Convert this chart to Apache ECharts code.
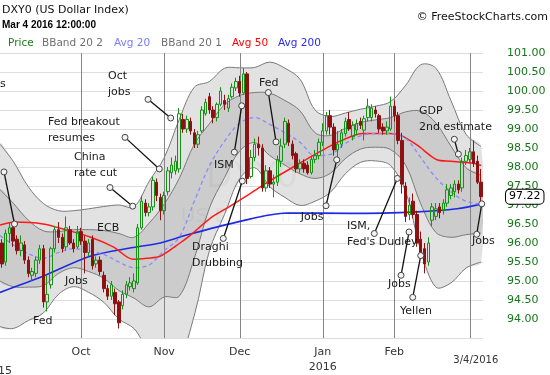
<!DOCTYPE html>
<html>
<head>
<meta charset="utf-8">
<script src="https://cdn.jsdelivr.net/npm/echarts@6/dist/echarts.min.js"></script>
<style>html,body{margin:0;padding:0;background:#fff}#c{width:550px;height:375px}</style>
</head>
<body>
<div id="c"></div>
<script>
const dates = ['9/1/2015','9/2/2015','9/3/2015','9/4/2015','9/8/2015','9/9/2015','9/10/2015','9/11/2015','9/14/2015','9/15/2015','9/16/2015','9/17/2015','9/18/2015','9/21/2015','9/22/2015','9/23/2015','9/24/2015','9/25/2015','9/28/2015','9/29/2015','9/30/2015',
'10/1/2015','10/2/2015','10/5/2015','10/6/2015','10/7/2015','10/8/2015','10/9/2015','10/12/2015','10/13/2015','10/14/2015','10/15/2015','10/16/2015','10/19/2015','10/20/2015','10/21/2015','10/22/2015','10/23/2015','10/26/2015','10/27/2015','10/28/2015','10/29/2015','10/30/2015',
'11/2/2015','11/3/2015','11/4/2015','11/5/2015','11/6/2015','11/9/2015','11/10/2015','11/11/2015','11/12/2015','11/13/2015','11/16/2015','11/17/2015','11/18/2015','11/19/2015','11/20/2015','11/23/2015','11/24/2015','11/25/2015','11/27/2015','11/30/2015',
'12/1/2015','12/2/2015','12/3/2015','12/4/2015','12/7/2015','12/8/2015','12/9/2015','12/10/2015','12/11/2015','12/14/2015','12/15/2015','12/16/2015','12/17/2015','12/18/2015','12/21/2015','12/22/2015','12/23/2015','12/24/2015','12/28/2015','12/29/2015','12/30/2015','12/31/2015',
'1/4/2016','1/5/2016','1/6/2016','1/7/2016','1/8/2016','1/11/2016','1/12/2016','1/13/2016','1/14/2016','1/15/2016','1/19/2016','1/20/2016','1/21/2016','1/22/2016','1/25/2016','1/26/2016','1/27/2016','1/28/2016','1/29/2016',
'2/1/2016','2/2/2016','2/3/2016','2/4/2016','2/5/2016','2/8/2016','2/9/2016','2/10/2016','2/11/2016','2/12/2016','2/16/2016','2/17/2016','2/18/2016','2/19/2016','2/22/2016','2/23/2016','2/24/2016','2/25/2016','2/26/2016','2/29/2016',
'3/1/2016','3/2/2016','3/3/2016','3/4/2016'];

const opens = [
96.00,95.50,96.25,96.40,96.10,95.80,95.95,95.55,95.15,95.20,
95.55,95.85,94.45,94.90,95.85,96.35,96.15,95.90,96.35,96.00,
95.90,96.30,96.05,95.75,96.10,95.45,95.55,95.15,94.80,94.60,
94.70,94.45,94.35,94.65,94.85,94.80,94.95,96.40,97.05,96.80,
96.95,97.60,97.20,96.85,97.35,97.85,97.90,97.95,99.25,99.00,
99.20,98.90,98.60,98.95,99.40,99.85,99.50,99.30,99.65,99.75,
99.55,99.85,100.08,100.25,99.95,100.45,97.75,98.25,98.60,98.50,
97.45,97.90,97.55,97.60,98.15,98.60,99.15,98.60,98.35,97.95,
98.10,98.05,97.85,98.20,98.30,98.65,98.95,99.35,99.05,98.45,
98.60,98.88,99.25,98.80,98.97,99.20,98.97,99.30,99.30,99.50,
99.35,99.05,98.95,99.00,99.60,99.35,98.70,97.50,96.75,97.10,
96.75,96.10,95.85,95.50,96.60,96.70,96.95,96.85,97.05,97.25,
97.35,97.55,97.45,98.15,98.20,98.40,98.15,97.60];
const closes = [
95.45,96.25,96.40,96.05,95.80,96.00,95.55,95.20,95.25,95.55,
95.85,94.45,94.65,95.85,96.35,96.15,95.85,96.40,96.00,95.85,
96.30,96.05,95.75,96.00,95.40,95.55,95.25,94.80,94.60,94.90,
94.40,93.90,94.65,94.90,94.95,95.00,96.40,97.10,96.80,96.95,
97.65,97.25,96.85,97.25,97.90,98.05,98.15,99.40,99.00,99.25,
98.95,98.60,98.85,99.50,99.70,99.50,99.30,99.65,100.00,99.65,
99.80,100.10,100.25,99.95,100.45,97.70,98.25,98.60,98.50,97.45,
97.90,97.55,97.60,98.20,98.55,99.20,98.65,98.30,97.95,98.10,
97.95,97.85,98.20,98.30,98.65,98.95,99.35,99.05,98.45,98.60,
98.90,99.20,99.00,99.10,99.14,99.10,99.27,99.60,99.55,99.40,
99.00,98.95,99.05,99.60,99.35,98.70,97.55,96.70,97.00,96.75,
96.00,95.75,95.45,96.00,96.95,96.90,96.80,97.05,97.40,97.45,
97.55,97.40,98.15,98.30,98.40,98.10,97.60,97.22];
const lows = [
95.35,95.40,96.00,95.90,95.70,95.65,95.45,95.10,95.00,95.10,
95.45,94.30,94.20,94.80,95.75,96.00,95.75,95.80,95.95,95.75,
95.85,95.95,95.20,95.65,95.30,95.35,95.15,94.70,94.50,94.50,
94.10,93.75,94.25,94.55,94.75,94.70,94.90,96.35,96.70,96.70,
96.85,97.10,96.60,96.75,97.25,97.70,97.80,97.85,98.90,98.90,
98.85,98.50,98.50,98.90,99.35,99.40,99.15,99.20,99.60,99.50,
99.45,99.80,100.00,99.85,99.90,97.55,97.70,98.15,98.30,97.35,
97.35,97.45,97.20,97.50,98.00,98.50,98.55,98.20,97.85,97.85,
97.85,97.80,97.80,98.10,98.20,98.55,98.85,98.85,98.30,98.15,
98.50,98.80,98.95,98.70,98.85,99.00,98.70,99.20,99.20,99.30,
98.90,98.85,98.85,98.95,99.20,98.60,97.30,96.55,96.60,96.65,
95.90,95.60,95.20,95.40,96.45,96.60,96.65,96.75,96.95,97.15,
97.20,97.30,97.35,98.05,98.10,98.00,97.55,97.05];
const highs = [
96.10,96.35,96.55,96.50,96.20,96.20,96.05,95.65,95.35,95.65,
95.95,95.95,95.15,95.90,96.45,96.55,96.25,96.70,96.45,96.10,
96.45,96.40,96.20,96.10,96.20,95.65,95.65,95.25,94.90,95.00,
94.80,94.50,94.75,95.00,95.10,95.20,96.50,97.25,97.15,97.05,
97.75,97.70,97.30,97.35,98.00,98.25,98.30,99.55,99.40,99.35,
99.30,99.00,98.95,99.60,99.80,99.95,99.60,99.70,100.10,99.90,
99.90,100.20,100.35,100.40,100.60,100.50,98.45,98.75,98.80,98.60,
98.05,98.00,97.80,98.30,98.75,99.30,99.25,98.70,98.40,98.20,
98.20,98.15,98.30,98.45,98.75,99.15,99.45,99.50,99.15,98.95,
99.00,99.30,99.45,99.20,99.25,99.30,99.35,99.80,99.65,99.60,
99.40,99.15,99.20,99.85,99.75,99.45,98.90,97.60,97.20,97.30,
96.85,96.30,96.00,96.15,97.05,97.05,97.05,97.15,97.55,97.55,
97.65,97.65,98.25,98.45,98.50,98.70,98.30,97.95];

// Bollinger bands and 20-day average, sampled at bar positions (bar index)
const bandIdx  = [-0.5,3,7,11,15,19,23,27,31,35,39,43,47,51,55,59,63,67,71,75,79,83,87,91,95,99,103,107,111,115,119,123,127];
const bbUpper2 = [98.6,98.15,97.48,97.04,96.85,96.85,96.9,96.96,97.0,96.95,97.62,98.24,99.25,100.1,100.25,100.6,100.61,100.62,100.76,100.6,100.31,99.5,99.33,99.42,99.52,99.6,99.72,100.15,100.69,100.6,99.75,98.86,98.54];
const bbUpper1 = [97.4,97.05,96.6,96.32,96.3,96.35,96.35,96.33,96.25,96.15,96.52,97.02,97.7,98.6,99.14,99.64,99.88,99.96,99.94,99.75,99.48,98.9,98.83,99.02,99.17,99.24,99.3,99.45,99.47,99.16,98.55,97.98,97.78];
const avg20    = [96.2,95.95,95.72,95.6,95.75,95.85,95.8,95.7,95.5,95.35,95.42,95.8,96.15,97.1,98.03,98.68,99.15,99.3,99.12,98.9,98.65,98.3,98.33,98.62,98.82,98.88,98.88,98.75,98.25,97.72,97.35,97.1,97.02];
const bbLower1 = [95.0,94.85,94.84,94.88,95.2,95.35,95.25,95.07,94.75,94.55,94.32,94.58,94.6,95.6,96.92,97.72,98.42,98.64,98.3,98.05,97.82,97.7,97.83,98.22,98.47,98.52,98.46,98.05,97.03,96.28,96.15,96.22,96.26];
const bbLower2 = [93.8,93.75,93.96,94.16,94.65,94.85,94.7,94.44,94.0,93.75,93.22,93.36,93.05,94.1,95.8,96.75,97.69,97.98,97.48,97.2,96.99,97.1,97.33,97.82,98.12,98.16,98.04,97.35,95.81,94.84,94.95,95.34,95.5];

const avg50Idx = [-0.5,3.5,10.9,17.2,23.4,29.5,34.8,38.5,41.9,47.2,49.9,55.2,60.5,65.8,71.1,79.8,85.1,89.6,95.7,102.9,106,110,115.3,118.8,124.9,127];
const avg50    = [96.47,96.55,96.5,96.34,96.16,95.9,95.57,95.6,95.65,96.0,96.2,96.65,96.97,97.3,97.64,98.15,98.45,98.68,98.88,98.88,98.82,98.58,98.19,98.15,98.1,98.04];
const avg200Idx = [-0.5,11,23.4,34.8,42,49,62.3,75.6,92.3,110,120.6,127.3];
const avg200    = [94.7,95.13,95.65,95.88,96.0,96.21,96.55,96.79,96.78,96.82,96.9,97.03];

const tickIdx = [21,43,63,85,104,124];
const tickLabels = ['Oct','Nov','Dec','Jan\n2016','Feb','3/4/2016'];
const yTickLabels = ['94.00','94.50','95.00','95.50','96.00','96.50','97.00','97.50','98.00','98.50','99.00','99.50','100.00','100.50','101.00'];

const annoTexts = ['Jobs','Fed','Jobs','ECB','China\nrate cut','Fed breakout\nresumes','Oct\njobs','ISM','Draghi\nDrubbing','Fed','Jobs',"ISM,\nFed's Dudley",'Jobs','Yellen','GDP\n2nd estimate','Jobs'];
const annoAt = [[-5.0,100.38],[8.25,94.15],[16.73,95.21],[25.21,96.60],[19.11,98.47],[12.22,99.40],[28.12,100.59],[56.22,98.26],[50.39,96.09],[68.15,100.41],[79.2,96.89],[91.47,96.66],[102.34,95.13],[105.52,94.41],[110.55,99.68],[124.6,96.27]];
const annoLinks = [[0.56,97.87,3.34,96.50],[28.65,97.46,34.67,96.97],[32.63,98.78,41.72,97.95],[38.73,99.78,44.74,99.29],[61.6,98.39,63.56,99.61],[58.68,96.12,63.72,97.63],[70.61,99.96,72.65,98.66],[85.9,96.98,88.74,98.19],[98.7,96.25,104.8,97.70],[105.78,95.15,107.9,96.29],[108.88,94.57,111.0,95.67],[119.9,98.73,120.97,98.34],[125.84,96.23,127.17,97.03]];

const FONT = '"DejaVu Sans", Verdana, sans-serif';
const chart = echarts.init(document.getElementById('c'), null, {renderer: 'canvas'});
const lastClose = closes[closes.length - 1];

function bandRender(params, api) {
  const P = ys => bandIdx.map((x, k) => api.coord([x, ys[k]]));
  const u2 = P(bbUpper2), u1 = P(bbUpper1), l1 = P(bbLower1), l2 = P(bbLower2);
  const S = 0.35;
  const edge = '#7a7a7a';
  return {type: 'group', children: [
    {type: 'polygon', shape: {points: u2.concat(l2.slice().reverse()), smooth: S}, style: {fill: '#e2e2e2'}},
    {type: 'polygon', shape: {points: u1.concat(l1.slice().reverse()), smooth: S}, style: {fill: '#cccccc'}},
    {type: 'polyline', shape: {points: u2, smooth: S}, style: {stroke: edge, lineWidth: 1, fill: null}},
    {type: 'polyline', shape: {points: l2, smooth: S}, style: {stroke: edge, lineWidth: 1, fill: null}},
    {type: 'polyline', shape: {points: u1, smooth: S}, style: {stroke: edge, lineWidth: 1, fill: null}},
    {type: 'polyline', shape: {points: l1, smooth: S}, style: {stroke: edge, lineWidth: 1, fill: null}}
  ]};
}

const option = {
  animation: false,
  backgroundColor: '#ffffff',
  grid: {left: 0, right: 67, top: 53, bottom: 32, containLabel: false},
  xAxis: [
    {type: 'category', data: dates, boundaryGap: true,
     axisLine: {show: false}, axisTick: {show: false}, splitLine: {show: false},
     axisLabel: {
       interval: (i) => tickIdx.indexOf(i) >= 0,
       hideOverlap: false,
       formatter: (v, i) => {
         const k = tickIdx.indexOf(i);
         if (k < 0) return '';
         return k === tickLabels.length - 1 ? '{d|' + tickLabels[k] + '}' : tickLabels[k];
       },
       margin: 7, color: '#333', fontSize: 11, fontFamily: FONT, lineHeight: 15,
       rich: {d: {fontSize: 10, fontFamily: FONT, color: '#333', padding: [15, 0, 0, 12]}}
     }},
    {type: 'value', min: -0.5, max: 127.5, show: false}
  ],
  yAxis: {type: 'value', position: 'right', min: 93.5, max: 101, interval: 0.5,
    axisLine: {show: false}, axisTick: {show: false},
    splitLine: {lineStyle: {color: '#dedede', width: 1}},
    axisLabel: {margin: 24, color: '#17761a', fontSize: 11, fontFamily: FONT,
      formatter: (v) => { const k = Math.round((v - 94) / 0.5); return (k >= 0 && k < yTickLabels.length) ? yTickLabels[k] : ''; }}
  },
  series: [
    {type: 'custom', name: 'bands', xAxisIndex: 1, yAxisIndex: 0, clip: true, silent: true, z: 1,
     data: [[0, 97]], renderItem: bandRender},
    {type: 'custom', name: 'months', xAxisIndex: 0, yAxisIndex: 0, silent: true, z: 2,
     data: tickIdx.map(i => [i, 97]),
     renderItem: (params, api) => {
       const cs = params.coordSys;
       const x = Math.round(api.coord([api.value(0), 97])[0]) + 0.5;
       return {type: 'line', shape: {x1: x, y1: cs.y, x2: x, y2: cs.y + cs.height}, style: {stroke: '#858585', lineWidth: 1}};
     }},
    {type: 'line', name: 'Avg 200', xAxisIndex: 1, data: avg200Idx.map((x, k) => [x, avg200[k]]), smooth: 0.3,
     showSymbol: false, symbol: 'none', silent: true, z: 3, lineStyle: {color: '#1d2be6', width: 1.6}},
    {type: 'line', name: 'Avg 50', xAxisIndex: 1, data: avg50Idx.map((x, k) => [x, avg50[k]]), smooth: 0.3,
     showSymbol: false, symbol: 'none', silent: true, z: 3, lineStyle: {color: '#ff1a1a', width: 1.5}},
    {type: 'line', name: 'Avg 20', xAxisIndex: 1, data: bandIdx.map((x, k) => [x, avg20[k]]), smooth: 0.35,
     showSymbol: false, symbol: 'none', silent: true, z: 3, lineStyle: {color: '#8a8aff', width: 1.3, type: [4, 3]}},
    {type: 'candlestick', name: 'Price', xAxisIndex: 0, z: 4, barWidth: 3, silent: true,
     data: dates.map((d, i) => [opens[i], closes[i], lows[i], highs[i]]),
     itemStyle: {color: 'rgba(255,255,255,0)', color0: '#8e1111', borderColor: '#139213', borderColor0: '#8e1111', borderWidth: 1},
     markLine: {silent: true, symbol: ['none', 'none'], animation: false,
       lineStyle: {color: 'rgba(0,0,0,0)', width: 0},
       label: {show: true, position: 'end', distance: 23, formatter: lastClose.toFixed(2),
         color: '#000', fontSize: 11, fontFamily: FONT, backgroundColor: '#fff',
         borderColor: '#000', borderWidth: 1, borderRadius: 4, padding: [2, 3, 1, 3]},
       data: [{yAxis: lastClose}]}},
    {type: 'custom', name: 'links', xAxisIndex: 1, yAxisIndex: 0, silent: true, z: 5,
     data: annoLinks,
     renderItem: (params, api) => {
       const a = api.coord([api.value(0), api.value(1)]);
       const b = api.coord([api.value(2), api.value(3)]);
       return {type: 'group', children: [
         {type: 'line', shape: {x1: a[0], y1: a[1], x2: b[0], y2: b[1]}, style: {stroke: '#111', lineWidth: 1.3}},
         {type: 'circle', shape: {cx: a[0], cy: a[1], r: 3}, style: {fill: '#f2f2f2', stroke: '#444', lineWidth: 1}},
         {type: 'circle', shape: {cx: b[0], cy: b[1], r: 3}, style: {fill: '#f2f2f2', stroke: '#444', lineWidth: 1}}
       ]};
     }},
    {type: 'custom', name: 'notes', xAxisIndex: 1, yAxisIndex: 0, silent: true, z: 6,
     data: annoAt.map((p, k) => [p[0], p[1], k]),
     renderItem: (params, api) => {
       const p = api.coord([api.value(0), api.value(1)]);
       const k = api.value(2);
       return {type: 'text', x: p[0], y: p[1],
         style: {text: annoTexts[k], fill: '#1a1a1a', font: '11px ' + FONT, align: 'left', verticalAlign: 'top', lineHeight: 16}};
     }}
  ],
  graphic: [
    {type: 'text', x: 252, y: 178, z: 100, silent: true, style: {text: 'DXY0', font: '34px ' + FONT, fill: 'rgba(0,0,0,0.035)', align: 'center', verticalAlign: 'middle'}},
    {type: 'text', x: 258, y: 217, z: 100, silent: true, style: {text: 'US Dollar Index', font: '20px ' + FONT, fill: 'rgba(0,0,0,0.035)', align: 'center', verticalAlign: 'middle'}},
    {type: 'text', x: 2, y: 10.5, silent: true, style: {text: 'DXY0 (US Dollar Index)', font: '11px ' + FONT, fill: '#111', verticalAlign: 'middle'}},
    {type: 'text', x: 2, y: 25, silent: true, style: {text: 'Mar 4 2016 12:00:00', font: 'bold 10px "Liberation Sans", Arial, sans-serif', fill: '#000', verticalAlign: 'middle'}},
    {type: 'text', x: 548, y: 17, silent: true, style: {text: '\u00a9 FreeStockCharts.com', font: '11px ' + FONT, fill: '#111', align: 'right', verticalAlign: 'middle'}},
    {type: 'text', x: 8, y: 43, silent: true, style: {text: 'Price', font: '10.5px ' + FONT, fill: '#1b7d1b', verticalAlign: 'middle'}},
    {type: 'text', x: 42, y: 43, silent: true, style: {text: 'BBand 20 2', font: '10.5px ' + FONT, fill: '#707070', verticalAlign: 'middle'}},
    {type: 'text', x: 114, y: 43, silent: true, style: {text: 'Avg 20', font: '10.5px ' + FONT, fill: '#7b7bff', verticalAlign: 'middle'}},
    {type: 'text', x: 161, y: 43, silent: true, style: {text: 'BBand 20 1', font: '10.5px ' + FONT, fill: '#707070', verticalAlign: 'middle'}},
    {type: 'text', x: 232, y: 43, silent: true, style: {text: 'Avg 50', font: '10.5px ' + FONT, fill: '#ff0000', verticalAlign: 'middle'}},
    {type: 'text', x: 278, y: 43, silent: true, style: {text: 'Avg 200', font: '10.5px ' + FONT, fill: '#2a2aee', verticalAlign: 'middle'}},
    {type: 'text', x: -16, y: 371, silent: true, style: {text: '2015', font: '11px ' + FONT, fill: '#333', verticalAlign: 'middle'}}
  ]
};
chart.setOption(option);
</script>
</body>
</html>
